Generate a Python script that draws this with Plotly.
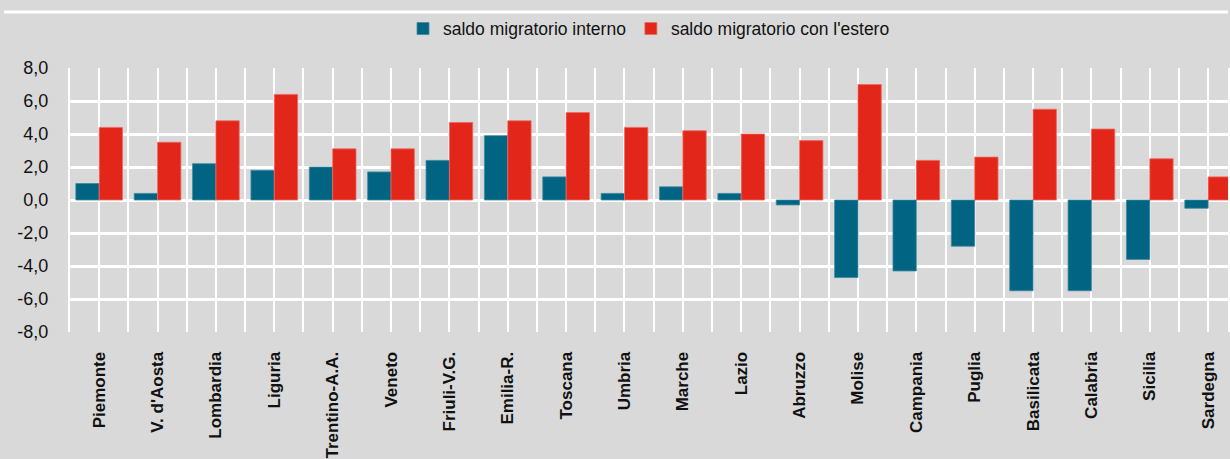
import plotly.graph_objects as go

regions = ["Piemonte", "V. d'Aosta", "Lombardia", "Liguria", "Trentino-A.A.", "Veneto",
           "Friuli-V.G.", "Emilia-R.", "Toscana", "Umbria", "Marche", "Lazio", "Abruzzo",
           "Molise", "Campania", "Puglia", "Basilicata", "Calabria", "Sicilia", "Sardegna"]
saldo_interno = [1.0, 0.4, 2.2, 1.8, 2.0, 1.7, 2.4, 3.9, 1.4, 0.4, 0.8, 0.4, -0.3,
                 -4.7, -4.3, -2.8, -5.5, -5.5, -3.6, -0.5]
saldo_estero = [4.4, 3.5, 4.8, 6.4, 3.1, 3.1, 4.7, 4.8, 5.3, 4.4, 4.2, 4.0, 3.6,
                7.0, 2.4, 2.6, 5.5, 4.3, 2.5, 1.4]
y_tick_values = [-8, -6, -4, -2, 0, 2, 4, 6, 8]
y_tick_labels = ["-8,0", "-6,0", "-4,0", "-2,0", "0,0", "2,0", "4,0", "6,0", "8,0"]
series_names = ["saldo migratorio interno", "saldo migratorio con l'estero"]

BG = "#D9D9D9"
BLUE = "#006482"
RED = "#E3261A"
FONT = "Liberation Sans, Arial, sans-serif"

xpos = list(range(len(regions)))

fig = go.Figure()
fig.add_trace(go.Bar(x=xpos, y=saldo_interno, name=series_names[0],
                     marker=dict(color=BLUE, line=dict(color="#3C8AA2", width=0.8))))
fig.add_trace(go.Bar(x=xpos, y=saldo_estero, name=series_names[1],
                     marker=dict(color=RED, line=dict(color="#EE6A5E", width=0.8))))

fig.update_layout(
    width=1230, height=459,
    margin=dict(l=70, r=0, t=68, b=122),
    paper_bgcolor=BG, plot_bgcolor=BG,
    barmode="group", bargap=0.2, bargroupgap=0,
    font=dict(family=FONT, size=17, color="#111111"),
    showlegend=True,
    legend=dict(orientation="h", x=0.5, xanchor="center", y=1.149, yanchor="middle",
                font=dict(size=17.5, family=FONT, color="#111111"),
                bgcolor="rgba(0,0,0,0)", itemwidth=30, traceorder="normal"),
    shapes=[dict(type="line", xref="paper", yref="paper", x0=-0.057, x1=1.0,
                 y0=1.212, y1=1.212, line=dict(color="white", width=3))],
)

fig.update_xaxes(
    range=[-0.5, 19.34],
    tickmode="array", tickvals=xpos, ticktext=regions,
    tickangle=-90, tickfont=dict(family=FONT, size=17, color="#111111", weight="bold"),
    ticks="outside", ticklen=12, tickcolor=BG,
    showgrid=True, gridcolor="#FFFFFF", gridwidth=2,
    minor=dict(tick0=-0.5, dtick=1, showgrid=True, gridcolor="#FFFFFF", gridwidth=2),
    showline=False, zeroline=False, fixedrange=True,
)
fig.update_yaxes(
    range=[-8, 8],
    tickmode="array", tickvals=y_tick_values, ticktext=y_tick_labels,
    tickfont=dict(family=FONT, size=18, color="#111111"),
    ticks="outside", ticklen=16, tickcolor=BG,
    showgrid=True, gridcolor="#FFFFFF", gridwidth=2.5,
    zeroline=True, zerolinecolor="#FFFFFF", zerolinewidth=2.5,
    showline=True, linecolor="#FFFFFF", linewidth=2, mirror=True,
    fixedrange=True,
)

fig.write_html(
    "out.html",
    config={"displayModeBar": False},
    post_script="document.body.style.margin='0';document.body.style.background='#D9D9D9';"
                "document.body.style.overflow='hidden';",
)
